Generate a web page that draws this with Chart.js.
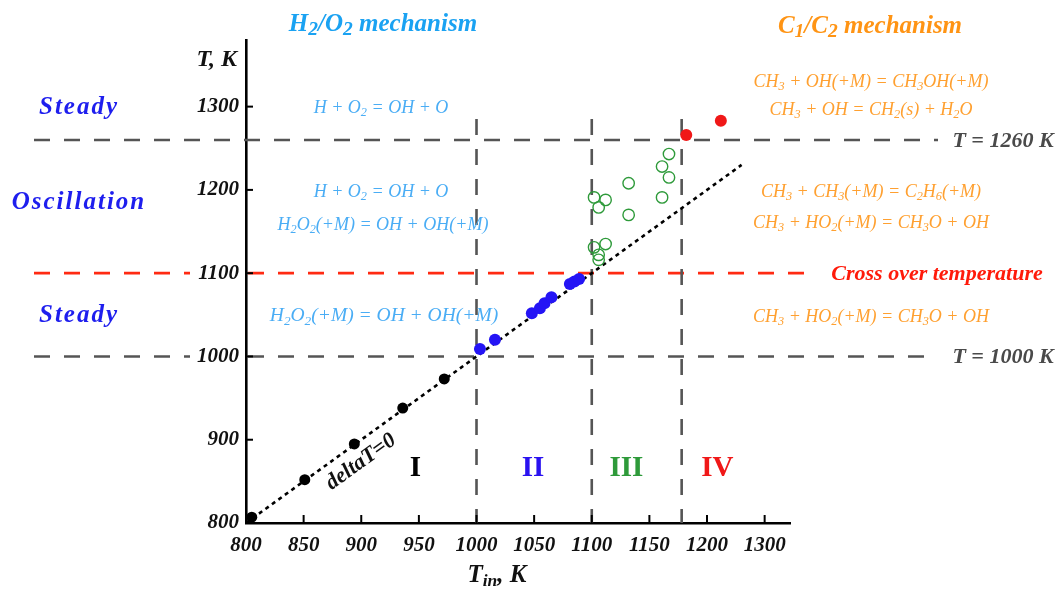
<!DOCTYPE html>
<html><head><meta charset="utf-8">
<script src="https://cdn.jsdelivr.net/npm/chart.js@4/dist/chart.umd.min.js"></script>
<style>html,body{margin:0;padding:0;background:#fff;} #wrap{width:1056px;height:595px;position:relative;}</style>
</head><body><div id="wrap"><canvas id="c" width="1056" height="595" style="width:1056px;height:595px"></canvas></div>
<script>
// ---- data (T_in, K  vs  T, K) ----
const regionI_Tin = [805, 851, 894, 936, 972];
const regionI_T   = [807, 852, 895, 938, 973];
const regionII_Tin = [1003, 1016, 1048, 1055, 1059, 1065, 1081, 1085, 1089];
const regionII_T   = [1009, 1020, 1052, 1058, 1064, 1071, 1087, 1090, 1093];
const regionIII_Tin = [1102, 1106, 1112, 1132, 1132, 1161, 1167, 1167, 1161, 1102, 1112, 1106, 1106];
const regionIII_T   = [1191, 1179, 1188, 1208, 1170, 1228, 1243, 1215, 1191, 1131, 1135, 1122, 1116];
const regionIV_Tin = [1182, 1212];
const regionIV_T   = [1266, 1283];
const deltaLine_Tin = [800, 1230];
const deltaLine_T   = [800, 1230];

const xTickValues = [800, 850, 900, 950, 1000, 1050, 1100, 1150, 1200, 1250];
const xTickLabels = ['800', '850', '900', '950', '1000', '1050', '1100', '1150', '1200', '1300'];
const yTickValues = [800, 900, 1000, 1100, 1200, 1300];
const yTickLabels = ['800', '900', '1000', '1100', '1200', '1300'];

const refLevels = [1260, 1100, 1000];
const refLevelLabels = ['T = 1260 K', 'Cross over temperature', 'T = 1000 K'];
const regionBounds = [1000, 1100, 1178];
const regionNames = ['I', 'II', 'III', 'IV'];
const regimeNames = ['Steady', 'Oscillation', 'Steady'];
const h2o2Reactions = ['H + O_2 = OH + O', 'H + O_2 = OH + O', 'H_2O_2(+M) = OH + OH(+M)', 'H_2O_2(+M) = OH + OH(+M)'];
const c1c2Reactions = ['CH_3 + OH(+M) = CH_3OH(+M)', 'CH_3 + OH = CH_2(s) + H_2O', 'CH_3 + CH_3(+M) = C_2H_6(+M)', 'CH_3 + HO_2(+M) = CH_3O + OH', 'CH_3 + HO_2(+M) = CH_3O + OH'];

const pts = (xs, ys) => xs.map((x, i) => ({x, y: ys[i]}));
const SERIF = '"Liberation Serif", "Times New Roman", serif';

function parseRich(str) {
  const segs = [];
  let i = 0, cur = '';
  while (i < str.length) {
    const ch = str[i];
    if (ch === '_') {
      if (cur) { segs.push({t: cur, sub: false}); cur = ''; }
      if (str[i + 1] === '{') {
        const j = str.indexOf('}', i);
        segs.push({t: str.slice(i + 2, j), sub: true});
        i = j + 1;
      } else {
        segs.push({t: str[i + 1], sub: true});
        i += 2;
      }
    } else { cur += ch; i++; }
  }
  if (cur) segs.push({t: cur, sub: false});
  return segs;
}

function drawRich(ctx, str, x, y, o) {
  const size = o.size, style = o.style || 'italic', weight = o.weight || 'normal';
  const subScale = o.subScale || 0.68, subShift = o.subShift || 0.28;
  const segs = parseRich(str);
  ctx.save();
  ctx.fillStyle = o.color;
  ctx.textBaseline = 'middle';
  ctx.textAlign = 'left';
  if (o.spacing) ctx.letterSpacing = o.spacing + 'px';
  const fontFor = s => `${style} ${weight} ${s.sub ? size * subScale : size}px ${SERIF}`;
  let total = 0;
  segs.forEach(s => { ctx.font = fontFor(s); s.w = ctx.measureText(s.t).width; total += s.w; });
  let sx = x;
  if (o.align === 'center' || !o.align) sx = x - total / 2;
  else if (o.align === 'right') sx = x - total;
  segs.forEach(s => {
    ctx.font = fontFor(s);
    ctx.fillText(s.t, sx, s.sub ? y + size * subShift : y);
    sx += s.w;
  });
  ctx.restore();
}

const overlay = {
  id: 'overlay',
  beforeDatasetsDraw(chart) {
    const {ctx, scales: {x, y}} = chart;
    ctx.save();
    ctx.lineWidth = 2.6;
    ctx.setLineDash([16, 14]);
    refLevels.forEach((v, i) => {
      const py = y.getPixelForValue(v);
      const end = i === 1 ? 818 : 938;
      ctx.strokeStyle = i === 1 ? '#FF2A12' : '#555555';
      ctx.beginPath();
      if (i === 0) {
        ctx.moveTo(34, py); ctx.lineTo(end, py);
      } else {
        // leave room for the axis tick label
        ctx.moveTo(34, py); ctx.lineTo(190, py);
        ctx.moveTo(x.left + 2, py); ctx.lineTo(end, py);
      }
      ctx.stroke();
    });
    ctx.strokeStyle = '#555555';
    regionBounds.forEach(v => {
      const px = x.getPixelForValue(v);
      ctx.beginPath();
      ctx.moveTo(px, y.getPixelForValue(1285));
      ctx.lineTo(px, y.bottom);
      ctx.stroke();
    });
    ctx.restore();
  },
  afterDraw(chart) {
    const {ctx, scales: {x, y}} = chart;
    ctx.save();
    ctx.strokeStyle = '#000';
    ctx.lineWidth = 2;
    xTickValues.forEach(v => {
      const px = x.getPixelForValue(v);
      ctx.beginPath(); ctx.moveTo(px, y.bottom); ctx.lineTo(px, y.bottom - 8); ctx.stroke();
    });
    yTickValues.forEach(v => {
      const py = y.getPixelForValue(v);
      ctx.beginPath(); ctx.moveTo(x.left, py); ctx.lineTo(x.left + 7, py); ctx.stroke();
    });
    ctx.restore();

    drawRich(ctx, 'T, K', 237, 60, {size: 24, weight: 'bold', color: '#111', align: 'right'});
    drawRich(ctx, 'T_{in}, K', 497, 576, {size: 25, weight: 'bold', color: '#111', subScale: 0.7, subShift: 0.22});

    drawRich(ctx, 'H_2/O_2 mechanism', 383, 25, {size: 25, weight: 'bold', color: '#1AA2F2', subScale: 0.78, subShift: 0.18});
    drawRich(ctx, 'C_1/C_2 mechanism', 870, 27, {size: 25, weight: 'bold', color: '#FF9414', subScale: 0.78, subShift: 0.18});

    const regimeY = [108, 203, 316];
    regimeNames.forEach((t, i) => drawRich(ctx, t, 79, regimeY[i], {size: 25, weight: 'bold', color: '#1E1EEE', spacing: 2}));

    const hPos = [[381, 108, 18], [381, 192, 18], [383, 225, 18], [384, 316, 19.5]];
    h2o2Reactions.forEach((t, i) => drawRich(ctx, t, hPos[i][0], hPos[i][1], {size: hPos[i][2], color: '#4AADF5'}));

    const cPos = [[871, 82], [871, 110], [871, 192], [871, 223], [871, 317]];
    c1c2Reactions.forEach((t, i) => drawRich(ctx, t, cPos[i][0], cPos[i][1], {size: 18, color: '#FFA030'}));

    const refX = [1003, 937, 1003];
    const refColors = ['#4A4A4A', '#FF1A0A', '#4A4A4A'];
    refLevels.forEach((v, i) => {
      drawRich(ctx, refLevelLabels[i], refX[i], y.getPixelForValue(v) + 1, {size: 22, weight: 'bold', color: refColors[i]});
    });

    const romanX = [947, 1049, 1130, 1209];
    const romanC = ['#000000', '#2A12F0', '#2E9A3A', '#F01818'];
    regionNames.forEach((t, i) => {
      drawRich(ctx, t, x.getPixelForValue(romanX[i]), y.getPixelForValue(866), {size: 29, weight: 'bold', style: 'normal', color: romanC[i]});
    });

    ctx.save();
    ctx.translate(361, 462);
    ctx.rotate(-Math.atan((y.getPixelForValue(800) - y.getPixelForValue(900)) / (x.getPixelForValue(900) - x.getPixelForValue(800))));
    drawRich(ctx, 'deltaT=0', 0, 0, {size: 22, weight: 'bold', color: '#111'});
    ctx.restore();
  }
};

new Chart(document.getElementById('c'), {
  type: 'scatter',
  data: {
    datasets: [
      {data: pts(regionI_Tin, regionI_T), backgroundColor: '#000', borderColor: '#000', pointRadius: 5.5, borderWidth: 0},
      {data: pts(regionII_Tin, regionII_T), backgroundColor: '#2414F5', borderColor: '#2414F5', pointRadius: 6, borderWidth: 0},
      {data: pts(regionIII_Tin, regionIII_T), backgroundColor: 'rgba(0,0,0,0)', borderColor: '#2E9A3A', pointRadius: 5.7, borderWidth: 1.4},
      {data: pts(regionIV_Tin, regionIV_T), backgroundColor: '#F01818', borderColor: '#F01818', pointRadius: 6, borderWidth: 0},
      {data: pts(deltaLine_Tin, deltaLine_T), showLine: true, borderColor: '#000', borderWidth: 2.6, borderDash: [4, 4], pointRadius: 0, order: 10}
    ]
  },
  options: {
    responsive: false,
    maintainAspectRatio: false,
    animation: false,
    devicePixelRatio: 1,
    layout: {padding: {left: 0, right: 266, top: 40, bottom: 0}},
    plugins: {legend: {display: false}, tooltip: {enabled: false}},
    scales: {
      x: {
        type: 'linear', min: 800, max: 1272,
        afterBuildTicks: s => { s.ticks = xTickValues.map(v => ({value: v})); },
        afterFit: s => { s.height = 72; },
        grid: {display: false, drawTicks: false},
        border: {display: true, color: '#000', width: 2.6},
        ticks: {
          autoSkip: false, maxRotation: 0, padding: 10, color: '#111',
          font: {family: SERIF, size: 21, style: 'italic', weight: 'bold'},
          callback: v => xTickLabels[xTickValues.indexOf(v)]
        }
      },
      y: {
        type: 'linear', min: 800, max: 1380,
        afterBuildTicks: s => { s.ticks = yTickValues.map(v => ({value: v})); },
        afterFit: s => { s.width = 246; },
        grid: {display: false, drawTicks: false},
        border: {display: true, color: '#000', width: 2.6},
        ticks: {
          padding: 7, color: '#111',
          font: {family: SERIF, size: 21, style: 'italic', weight: 'bold'},
          callback: v => yTickLabels[yTickValues.indexOf(v)]
        }
      }
    }
  },
  plugins: [overlay]
});
</script>
</body></html>
